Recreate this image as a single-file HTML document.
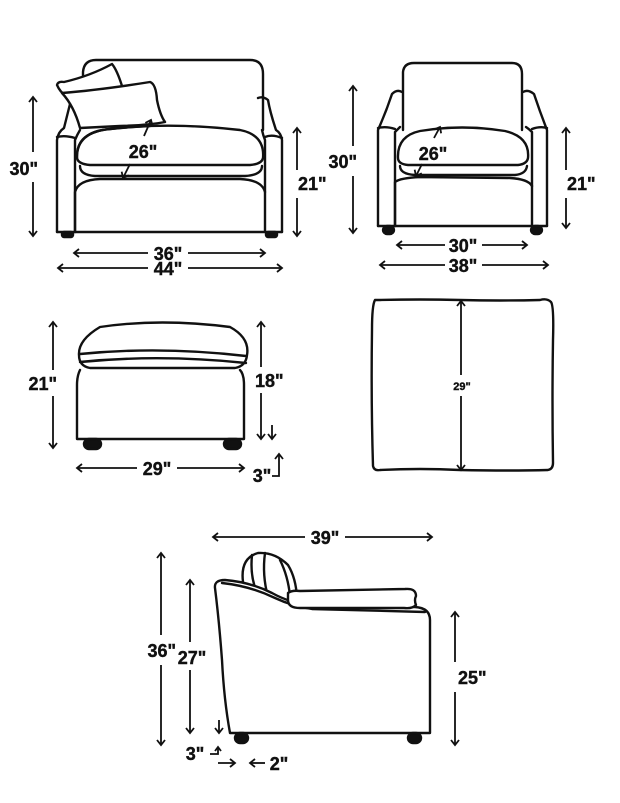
<!DOCTYPE html>
<html><head><meta charset="utf-8"><style>
html,body{margin:0;padding:0;background:#fff;}
svg{display:block;}
text{font-family:"Liberation Sans",sans-serif;font-weight:bold;fill:#111;stroke:#111;stroke-width:0.4;}
</style></head><body>
<svg width="620" height="803" viewBox="0 0 620 803" xmlns="http://www.w3.org/2000/svg">
<defs>
<marker id="a" markerWidth="10" markerHeight="10" refX="8" refY="5" orient="auto-start-reverse" markerUnits="userSpaceOnUse">
<polyline points="3,1 8,5 3,9" fill="none" stroke="#111" stroke-width="1.8"/>
</marker>
</defs>
<g fill="none" stroke="#111" stroke-width="2.4" stroke-linejoin="round" stroke-linecap="round">
<!-- top-left chair -->
<path d="M83,80 L83,72 Q84,60 96,60 L250,60 Q263,60 263,74 L263,130"/>
<path d="M57,232 L57,140 Q58,132 64,128 Q68,112 70,104"/>
<path d="M75,232 L75,140 Q77,135 80,130"/>
<path d="M57,137 Q65,135 75,138"/>
<path d="M282,232 L282,140 Q281,133 276,130 Q270,112 268,100 Q263,96 258,98"/>
<path d="M265,232 L265,140 Q263,135 262,130"/>
<path d="M265,137 Q272,134 282,138"/>
<path d="M57,232 L282,232"/>
<path d="M75,232 L75,192 Q78,180 100,179 L240,179 Q262,180 265,192"/>
<path d="M77,158 Q76,132 110,129 Q170,122 240,130 Q265,135 263,158 Q262,164 250,165 L90,165 Q78,164 77,158 Z" fill="#fff"/>
<path d="M80,166 Q80,175 95,176 L245,176 Q262,175 262,166"/>
<path d="M66,96 Q60,92 57,85 Q58,81 64,82 Q90,76 112,64 Q117,70 122,86" fill="#fff"/>
<path d="M62,93 Q100,90 150,82 Q156,84 157,100 Q160,115 165,122 Q150,125 120,126 L80,128 Q74,106 62,93 Z" fill="#fff"/>
<path d="M77,158 Q76,132 110,129 Q130,127 150,126" />
<rect x="62" y="232" width="11" height="5" rx="2" fill="#111"/>
<rect x="266" y="232" width="11" height="5" rx="2" fill="#111"/>
<!-- top-right chair -->
<path d="M403,130 L403,72 Q404,63 414,63 L512,63 Q522,63 522,74 L522,130"/>
<path d="M378,226 L378,130 Q386,112 392,94 Q397,89 402,92"/>
<path d="M395,226 L395,132 Q397,130 400,127"/>
<path d="M378,128 Q386,126 395,129"/>
<path d="M547,226 L547,130 Q540,112 534,94 Q528,89 523,92"/>
<path d="M532,226 L532,132 Q529,129 526,127"/>
<path d="M532,129 Q540,126 547,128"/>
<path d="M378,226 L547,226"/>
<path d="M395,226 L395,182 Q400,178 420,177 L510,178 Q528,179 532,186"/>
<path d="M398,158 Q397,136 420,131 Q462,124 505,131 Q530,137 528,158 Q527,164 518,165 L408,165 Q398,164 398,158 Z" fill="#fff"/>
<path d="M400,166 Q400,174 415,175 L515,175 Q526,174 527,166"/>
<rect x="383" y="226" width="11" height="8" rx="4" fill="#111"/>
<rect x="531" y="226" width="11" height="8" rx="4" fill="#111"/>
<!-- ottoman -->
<path d="M79,355 Q78,340 100,327 Q160,318 230,327 Q250,338 247,355 Q246,366 235,368 L90,368 Q79,366 79,355 Z"/>
<path d="M80,354 Q160,346 246,356"/>
<path d="M80,362 Q160,354 246,363"/>
<path d="M80,370 Q77,376 77,385 L77,439 L244,439 L244,385 Q244,374 240,370"/>
<rect x="84" y="439" width="17" height="10" rx="5" fill="#111"/>
<rect x="224" y="439" width="17" height="10" rx="5" fill="#111"/>
<!-- top view -->
<path d="M375,300 Q372,305 372,330 Q371,400 373,466 Q374,471 380,470 Q420,468 460,470 Q510,471 548,470 Q553,469 553,463 Q552,400 553,340 Q554,306 551,302 Q547,298 540,300 Q500,301 460,300 Q420,299 380,300 Z"/>
<!-- side view -->
<path d="M243,582 Q240,558 258,553 Q275,552 288,565 Q296,578 297,598" fill="#fff"/>
<path d="M252,555 Q250,575 256,590"/>
<path d="M265,553 Q262,575 268,597"/>
<path d="M280,560 Q288,576 290,596"/>
<path d="M215,588 Q214,580 225,580 Q250,582 272,593 Q290,603 310,605 L415,607 Q430,608 430,620 L430,733 L230,733 Q224,700 222,660 Q219,620 215,588 Z" fill="#fff"/>
<path d="M222,583 Q250,586 275,598 Q292,606 312,609 L425,612"/>
<path d="M288,593 Q292,590 300,591 L405,589 Q416,588 416,596 Q414,600 416,605 Q412,609 404,608 L300,608 Q288,608 288,600 Z" fill="#fff"/>
<rect x="235" y="733" width="13" height="10" rx="5" fill="#111"/>
<rect x="408" y="733" width="13" height="10" rx="5" fill="#111"/>
</g>
<!-- dimension lines -->
<g stroke="#111" stroke-width="1.8" fill="none" marker-start="url(#a)" marker-end="url(#a)">
<path d="M33,97 L33,236"/>
<path d="M297,128 L297,236"/>
<path d="M74,253 L265,253"/>
<path d="M58,268 L282,268"/>
<path d="M353,86 L353,233"/>
<path d="M566,128 L566,228"/>
<path d="M397,245 L527,245"/>
<path d="M380,265 L548,265"/>
<path d="M53,322 L53,448"/>
<path d="M261,322 L261,439"/>
<path d="M77,468 L244,468"/>
<path d="M461,301 L461,470"/>
<path d="M213,537 L432,537"/>
<path d="M161,553 L161,745"/>
<path d="M190,580 L190,733"/>
<path d="M455,612 L455,745"/>
</g>
<g stroke="#fff" stroke-width="22" fill="none">
<path d="M33,152 L33,182"/><path d="M297,170 L297,198"/>
<path d="M148,253 L188,253"/><path d="M148,268 L188,268"/>
<path d="M353,146 L353,176"/><path d="M566,170 L566,198"/>
<path d="M445,245 L482,245"/><path d="M445,265 L482,265"/>
<path d="M53,370 L53,396"/><path d="M261,367 L261,393"/>
<path d="M137,468 L177,468"/><path d="M461,375 L461,396"/>
<path d="M305,537 L345,537"/>
<path d="M161,635 L161,665"/><path d="M190,642 L190,670"/>
<path d="M455,662 L455,692"/>
</g>
<g stroke="#111" stroke-width="1.8" fill="none" marker-end="url(#a)">
<path d="M144,136 L151,120"/>
<path d="M130,164 L123,178"/>
<path d="M434,138 L440,127"/>
<path d="M422,164 L416,176"/>
</g>
<g stroke="#111" stroke-width="1.8" fill="none">
<path d="M272,425 L272,439"/><path d="M268,434 L272,439 L276,434"/>
<path d="M272,476 L279,476 L279,455"/><path d="M275,459 L279,454 L283,459"/>
<path d="M219,720 L219,733"/><path d="M215,728 L219,733 L223,728"/>
<path d="M210,754 L218,754 L218,748"/><path d="M215,751 L218,747 L221,751"/>
<path d="M218,763 L235,763"/><path d="M230,759 L235,763 L230,767"/>
<path d="M250,763 L265,763"/><path d="M255,759 L250,763 L255,767"/>
</g>
<g font-size="18" text-anchor="middle">
<text x="143" y="158">26"</text>
<text x="38" y="175" text-anchor="end">30"</text>
<text x="298" y="190" text-anchor="start">21"</text>
<text x="168" y="260">36"</text>
<text x="168" y="275">44"</text>
<text x="433" y="160">26"</text>
<text x="357" y="168" text-anchor="end">30"</text>
<text x="567" y="190" text-anchor="start">21"</text>
<text x="463" y="252">30"</text>
<text x="463" y="272">38"</text>
<text x="57" y="390" text-anchor="end">21"</text>
<text x="255" y="387" text-anchor="start">18"</text>
<text x="157" y="475">29"</text>
<text x="262" y="482">3"</text>
<text x="325" y="544">39"</text>
<text x="176" y="657" text-anchor="end">36"</text>
<text x="192" y="664">27"</text>
<text x="458" y="684" text-anchor="start">25"</text>
<text x="195" y="760">3"</text>
<text x="279" y="770">2"</text>
</g>
<text x="462" y="390" font-size="11" text-anchor="middle">29"</text>
</svg>
</body></html>
